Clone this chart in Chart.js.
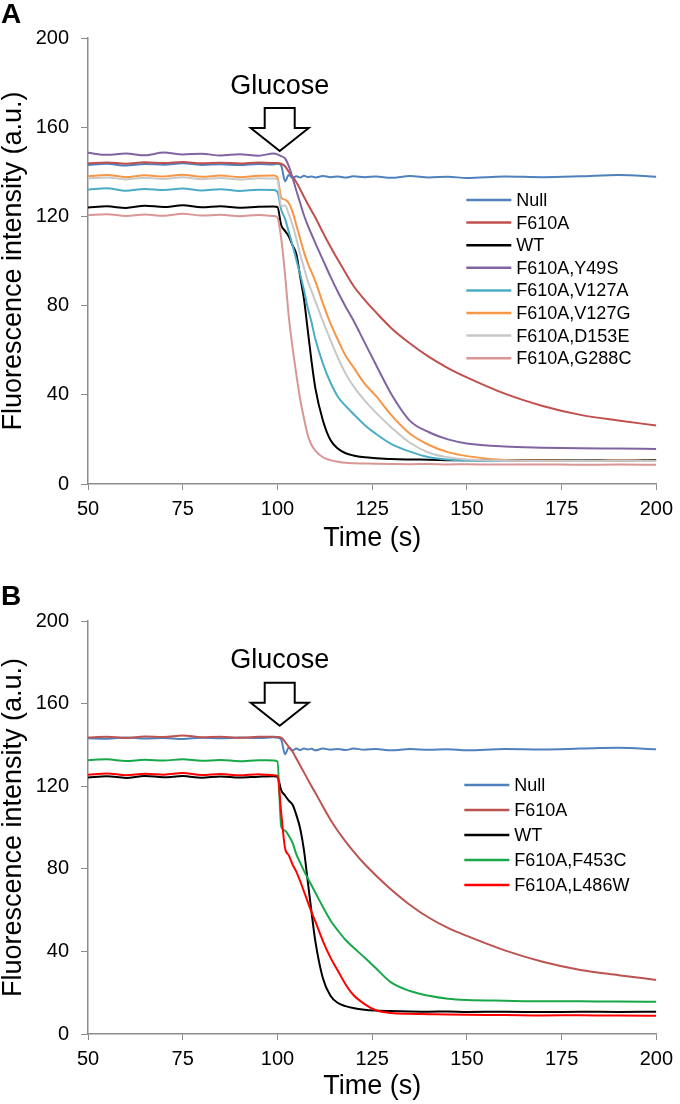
<!DOCTYPE html>
<html lang="en">
<head>
<meta charset="utf-8">
<title>Glucose response</title>
<script src="https://cdn.jsdelivr.net/npm/chart.js"></script>
<style>
  body { margin: 0; background: #fff; }
  .panel { position: absolute; left: 0; width: 680px; height: 552px; }
  #panelA { top: 0; }
  #panelB { top: 552px; }
</style>
</head>
<body>
<div class="panel" id="panelA"><canvas id="chartA"></canvas></div>
<div class="panel" id="panelB"><canvas id="chartB"></canvas></div>
<script>
// shared sampling times (s)
const seconds = [50,55,60,65,70,75,80,85,90,95, 99,100,101,102,103,104,105,106,107,108,109,110,
	112,114,116,118,120, 123,126,130, 135,140,145,150, 160,170,180,190,200]

const xTicks = { min: 50, max: 200, step: 25 }
const yTicks = { min: 0, max: 200, step: 40 }
const glucoseTime = 100.6
const glucoseLevel = 149.3

// panel A
const nullA  = [143.0,143.6,142.8,143.5,143.2,143.8,143.1,143.4,143.0,143.5, 143.3,143.6,142.8,135.8,138.6,137.2,138.0,137.4,138.2,137.6,137.9,137.5, 138.1,137.6,137.9,137.4,138.0, 137.6,137.9,137.3, 138.1,137.5,137.8,137.2, 137.9,137.6,138.0,138.6,137.8]
const f610aA = [143.8,144.2,143.6,144.3,143.9,144.4,143.8,144.1,143.7,144.2, 143.9,144.0,143.6,142.5,140.0,137.8,135.3,132.2,128.8,125.6,122.5,119.5, 112.8,106.4,100.4,94.6,89.0, 82.6,77.0,70.0, 63.0,57.0,52.0,47.8, 40.5,35.0,31.0,28.5,26.2]
const wtA    = [124.0,124.5,123.8,124.8,124.2,125.0,124.1,124.6,123.9,124.3, 124.4,124.2,116.0,113.5,111.0,107.0,103.0,93.0,83.0,69.0,55.0,43.0, 28.5,19.7,15.8,13.8,12.8, 12.0,11.6,11.2, 11.0,10.9,10.7,10.6, 10.8,10.6,10.7,10.5,10.8]
const y49sA  = [148.5,147.6,148.2,147.4,148.6,147.8,148.1,147.3,147.9,147.2, 148.2,147.8,147.0,146.0,142.5,137.3,131.5,126.0,120.5,116.0,112.0,108.0, 100.5,93.0,86.0,79.5,73.5, 63.5,53.5,40.5, 28.3,23.2,20.0,18.2, 16.8,16.3,16.0,15.9,15.7]
const v127aA = [132.0,132.6,131.5,132.3,131.8,132.5,131.6,132.2,131.4,132.0, 131.8,131.0,123.0,119.0,113.0,107.0,100.5,94.0,87.0,79.0,72.5,65.0, 54.0,45.5,39.0,35.0,31.5, 26.5,22.5,18.0, 14.5,12.0,11.0,10.5, 10.4,10.3,10.5,10.3,10.4]
const v127gA = [138.0,138.6,137.6,138.4,137.9,138.7,137.8,138.3,137.6,138.2, 138.3,137.5,128.5,127.5,126.0,122.0,116.0,110.0,104.0,99.0,95.0,91.0, 81.0,72.0,64.5,57.5,52.5, 45.0,39.5,31.0, 22.5,17.5,14.3,12.5, 10.8,10.5,10.4,10.5,10.4]
const d153eA = [137.0,137.5,136.6,137.3,136.8,137.6,136.7,137.2,136.5,137.1, 137.0,136.5,124.5,125.0,121.0,116.0,110.0,103.0,97.0,91.0,86.5,82.0, 73.0,64.5,56.5,49.5,44.0, 37.5,32.0,25.5, 18.5,14.0,12.0,11.0, 10.5,10.3,10.3,10.4,10.3]
const g288cA = [120.5,121.0,120.2,120.8,120.3,121.2,120.4,120.7,120.1,120.6, 120.2,119.5,110.0,94.0,75.0,61.0,49.0,38.0,29.5,22.0,17.5,15.0, 12.0,10.7,10.0,9.5,9.3, 9.2,9.1,9.0, 8.9,9.0,8.8,8.9, 8.7,8.8,8.6,8.7,8.6]

// panel B
const nullB  = [143.2,143.0,143.6,143.1,143.4,142.9,143.5,143.2,143.6,143.3, 143.7,143.5,142.5,135.5,138.8,137.3,138.2,137.5,138.3,137.8,138.1,137.4, 138.2,137.7,138.0,137.5,138.2, 137.7,138.0,137.4, 138.0,137.6,137.9,137.4, 138.0,137.8,138.2,138.6,137.9]
const f610aB = [143.6,144.0,143.4,144.1,143.8,144.6,143.7,144.0,143.5,143.9, 144.0,143.8,143.5,141.5,139.0,136.7,133.4,130.0,126.7,123.3,120.0,116.8, 110.2,103.8,98.2,93.2,88.6, 82.3,76.8,70.0, 62.5,56.3,51.4,47.5, 40.5,35.0,31.0,28.5,26.2]
const wtB    = [124.2,124.8,124.0,125.0,124.3,124.9,124.1,124.7,124.2,124.6, 124.8,124.5,118.0,115.5,113.0,111.0,106.0,99.5,89.0,74.0,59.0,45.0, 27.0,18.5,15.0,13.5,12.6, 11.8,11.4,11.1, 10.9,10.8,10.9,10.7, 10.8,10.6,10.8,10.7,10.8]
const f453cB = [132.6,133.0,132.2,132.8,132.4,133.1,132.3,132.7,132.1,132.6, 132.5,132.0,100.5,98.5,96.0,92.5,87.0,83.0,79.0,75.5,72.0,68.5, 61.5,55.0,50.0,45.5,42.0, 37.0,31.8,25.0, 20.8,18.5,17.1,16.5, 16.1,15.8,15.9,15.7,15.6]
const l486wB = [125.5,126.2,125.3,126.0,125.6,126.4,125.4,125.9,125.3,125.8, 125.3,125.0,107.0,90.0,86.5,82.0,78.5,74.0,69.0,64.0,59.0,54.5, 45.0,37.0,30.5,24.0,19.0, 14.5,11.5,10.2, 9.8,9.6,9.4,9.3, 9.2,9.0,9.1,8.9,8.8]

const FONT = "'Liberation Sans', Arial, sans-serif"
Chart.defaults.font.family = FONT
Chart.defaults.color = "#000"

function series(label, values, color, i) {
	return {
		label: label,
		data: seconds.map((t, k) => ({ x: t, y: values[k] })),
		borderColor: color,
		backgroundColor: color,
		borderWidth: 2,
		pointRadius: 0,
		cubicInterpolationMode: "monotone",
		order: -i
	}
}

// glucose arrow, panel letter and in-plot legend
const figurePlugin = {
	id: "figure",
	afterDraw(chart, args, opts) {
		const ctx = chart.ctx
		const area = chart.chartArea
		const tx = chart.scales.x.getPixelForValue(glucoseTime)
		const ty = chart.scales.y.getPixelForValue(glucoseLevel)
		ctx.save()

		ctx.fillStyle = "#000"
		ctx.font = "bold 28px " + FONT
		ctx.textAlign = "left"
		ctx.textBaseline = "alphabetic"
		ctx.fillText(opts.letter, 1, opts.letterY)

		ctx.beginPath()
		ctx.moveTo(tx, ty)
		ctx.lineTo(tx - 29, ty - 23)
		ctx.lineTo(tx - 15, ty - 23)
		ctx.lineTo(tx - 15, ty - 43)
		ctx.lineTo(tx + 15, ty - 43)
		ctx.lineTo(tx + 15, ty - 23)
		ctx.lineTo(tx + 29, ty - 23)
		ctx.closePath()
		ctx.fillStyle = "#fff"
		ctx.fill()
		ctx.lineWidth = 2
		ctx.strokeStyle = "#000"
		ctx.stroke()

		ctx.fillStyle = "#000"
		ctx.font = "27px " + FONT
		ctx.textAlign = "center"
		ctx.textBaseline = "middle"
		ctx.fillText("Glucose", tx, ty - 65)

		ctx.font = "18px " + FONT
		ctx.textAlign = "left"
		chart.data.datasets.forEach((ds, i) => {
			const ly = area.top + opts.legendTop + i * opts.legendStep
			const lx = area.right - opts.legendRight
			ctx.beginPath()
			ctx.moveTo(lx, ly)
			ctx.lineTo(lx + 45, ly)
			ctx.strokeStyle = ds.borderColor
			ctx.lineWidth = 2.5
			ctx.stroke()
			ctx.fillStyle = "#000"
			ctx.fillText(ds.label, lx + 50, ly + 1)
		})
		ctx.restore()
	}
}

function axes(xHeight, titlePad) {
	return {
		x: {
			type: "linear",
			min: xTicks.min,
			max: xTicks.max,
			ticks: { stepSize: xTicks.step, autoSkip: false, maxRotation: 0, padding: 7, font: { size: 20 } },
			grid: { drawOnChartArea: false, color: "#8c8c8c", tickLength: 6 },
			border: { color: "#8c8c8c", width: 1.5 },
			title: { display: true, text: "Time (s)", font: { size: 27, lineHeight: 1 }, padding: { top: 0, bottom: titlePad } },
			afterFit: s => { s.height = xHeight }
		},
		y: {
			min: yTicks.min,
			max: yTicks.max,
			ticks: { stepSize: yTicks.step, padding: 12, font: { size: 20 } },
			grid: { drawOnChartArea: false, color: "#8c8c8c", tickLength: 7 },
			border: { color: "#8c8c8c", width: 1.5 },
			title: { display: true, text: "Fluorescence intensity (a.u.)", font: { size: 27, lineHeight: 1 }, padding: 0 },
			afterFit: s => { s.width = 88 }
		}
	}
}

function makeChart(id, datasets, top, xHeight, titlePad, fig) {
	return new Chart(document.getElementById(id), {
		type: "line",
		data: { datasets: datasets },
		options: {
			responsive: true,
			maintainAspectRatio: false,
			animation: false,
			layout: { padding: { top: top, right: 17, left: 0, bottom: 0 } },
			scales: axes(xHeight, titlePad),
			plugins: {
				legend: { display: false },
				tooltip: { enabled: false },
				figure: fig
			}
		},
		plugins: [figurePlugin]
	})
}

makeChart("chartA", [
	series("Null", nullA, "#4f81bd", 0),
	series("F610A", f610aA, "#c0504d", 1),
	series("WT", wtA, "#000000", 2),
	series("F610A,Y49S", y49sA, "#8064a2", 3),
	series("F610A,V127A", v127aA, "#4bacc6", 4),
	series("F610A,V127G", v127gA, "#f79646", 5),
	series("F610A,D153E", d153eA, "#c8c8c8", 6),
	series("F610A,G288C", g288cA, "#d99694", 7)
], 38, 68, 0, { letter: "A", letterY: 23, legendTop: 162, legendStep: 22.6, legendRight: 190 })

makeChart("chartB", [
	series("Null", nullB, "#4f81bd", 0),
	series("F610A", f610aB, "#bc5350", 1),
	series("WT", wtB, "#000000", 2),
	series("F610A,F453C", f453cB, "#18a84a", 3),
	series("F610A,L486W", l486wB, "#ff0000", 4)
], 69, 70, 3.5, { letter: "B", letterY: 53, legendTop: 164, legendStep: 25, legendRight: 192 })
</script>
</body>
</html>
